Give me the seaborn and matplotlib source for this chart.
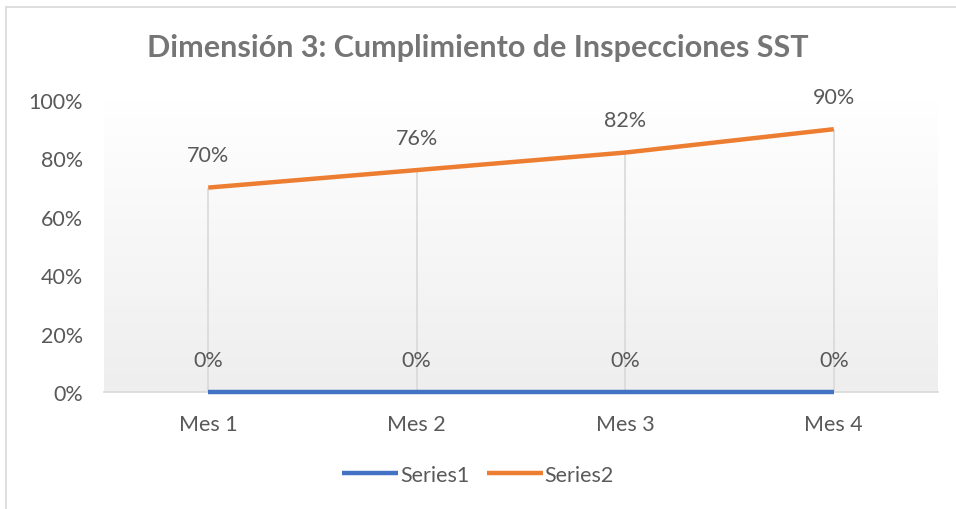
import numpy as np
import pandas as pd
import seaborn as sns
from matplotlib import pyplot as plt
from matplotlib.patches import Rectangle
from matplotlib.colors import LinearSegmentedColormap

meses = ["Mes 1", "Mes 2", "Mes 3", "Mes 4"]
series1 = [0.00, 0.00, 0.00, 0.00]
series2 = [0.70, 0.76, 0.82, 0.90]
series_names = ["Series1", "Series2"]
colores = ["#4472C4", "#ED7D31"]

df = pd.DataFrame({
    "Mes": meses * 2,
    "Valor": series1 + series2,
    "Serie": [series_names[0]] * 4 + [series_names[1]] * 4,
})
df["x"] = df["Mes"].map({m: i for i, m in enumerate(meses)})

sns.set_style("white")
plt.rcParams["font.family"] = ["Lato", "DejaVu Sans"]
text_color = "#595959"

fig = plt.figure(figsize=(9.56, 5.10), dpi=100)
ax = fig.add_axes([104 / 956, 1 - 393 / 510, (938 - 104) / 956, (393 - 101) / 510])

# chart border
fig.patches.append(Rectangle((6 / 956, -0.1), 1.1, 1 - 8 / 510 + 0.1, transform=fig.transFigure,
                             fill=False, edgecolor="#d9d9d9", linewidth=1.2))

# gradient plot area
grad = np.linspace(1, 0, 256).reshape(-1, 1)
cmap = LinearSegmentedColormap.from_list("g", ["#eeeeee", "#ffffff"])
ax.imshow(grad, extent=[0, 1, 0, 1], transform=ax.transAxes, cmap=cmap, aspect="auto", zorder=0)

# drop lines
top = np.maximum(series1, series2)
for i, v in enumerate(top):
    ax.plot([i, i], [0, v], color="#d9d9d9", linewidth=1.2, zorder=1)

sns.lineplot(data=df, x="x", y="Valor", hue="Serie", palette=colores, linewidth=3.2,
             ax=ax, legend=True, zorder=3)
for ln in ax.get_lines():
    ln.set_clip_on(False)
    ln.set_solid_capstyle("butt")

# data labels
for vals in (series1, series2):
    for i, v in enumerate(vals):
        ax.annotate(f"{v:.0%}", (i, v), xytext=(0, 16), textcoords="offset points",
                    ha="center", va="bottom", fontsize=15.5, color=text_color)

ax.set_xlim(-0.5, 3.5)
ax.set_ylim(0, 1.0)
ax.set_xticks(range(len(meses)))
ax.set_xticklabels(meses)
ax.set_yticks(np.arange(0, 1.01, 0.2))
ax.set_yticklabels([f"{t:.0%}" for t in np.arange(0, 1.01, 0.2)])
ax.tick_params(axis="both", length=0, labelsize=15.5, labelcolor=text_color)
ax.tick_params(axis="x", pad=16)
ax.tick_params(axis="y", pad=15)
for s in ["top", "right", "left"]:
    ax.spines[s].set_visible(False)
ax.spines["bottom"].set_color("#d9d9d9")
ax.spines["bottom"].set_linewidth(1.2)
ax.spines["bottom"].set_zorder(2)
ax.set_xlabel("")
ax.set_ylabel("")

fig.text(0.5, 1 - 48 / 510, "Dimensión 3: Cumplimiento de Inspecciones SST", ha="center", va="center",
         fontsize=22, fontweight="bold", color="#757575")

handles, labels = ax.get_legend_handles_labels()
leg = ax.legend(handles, labels, loc="center", bbox_to_anchor=(0.5, 1 - 476 / 510), bbox_transform=fig.transFigure,
                ncol=2, frameon=False, fontsize=15.5, handlelength=2.6, handletextpad=0.1, columnspacing=0.8,
                labelcolor=text_color)

fig.savefig("out.png", dpi=100)
